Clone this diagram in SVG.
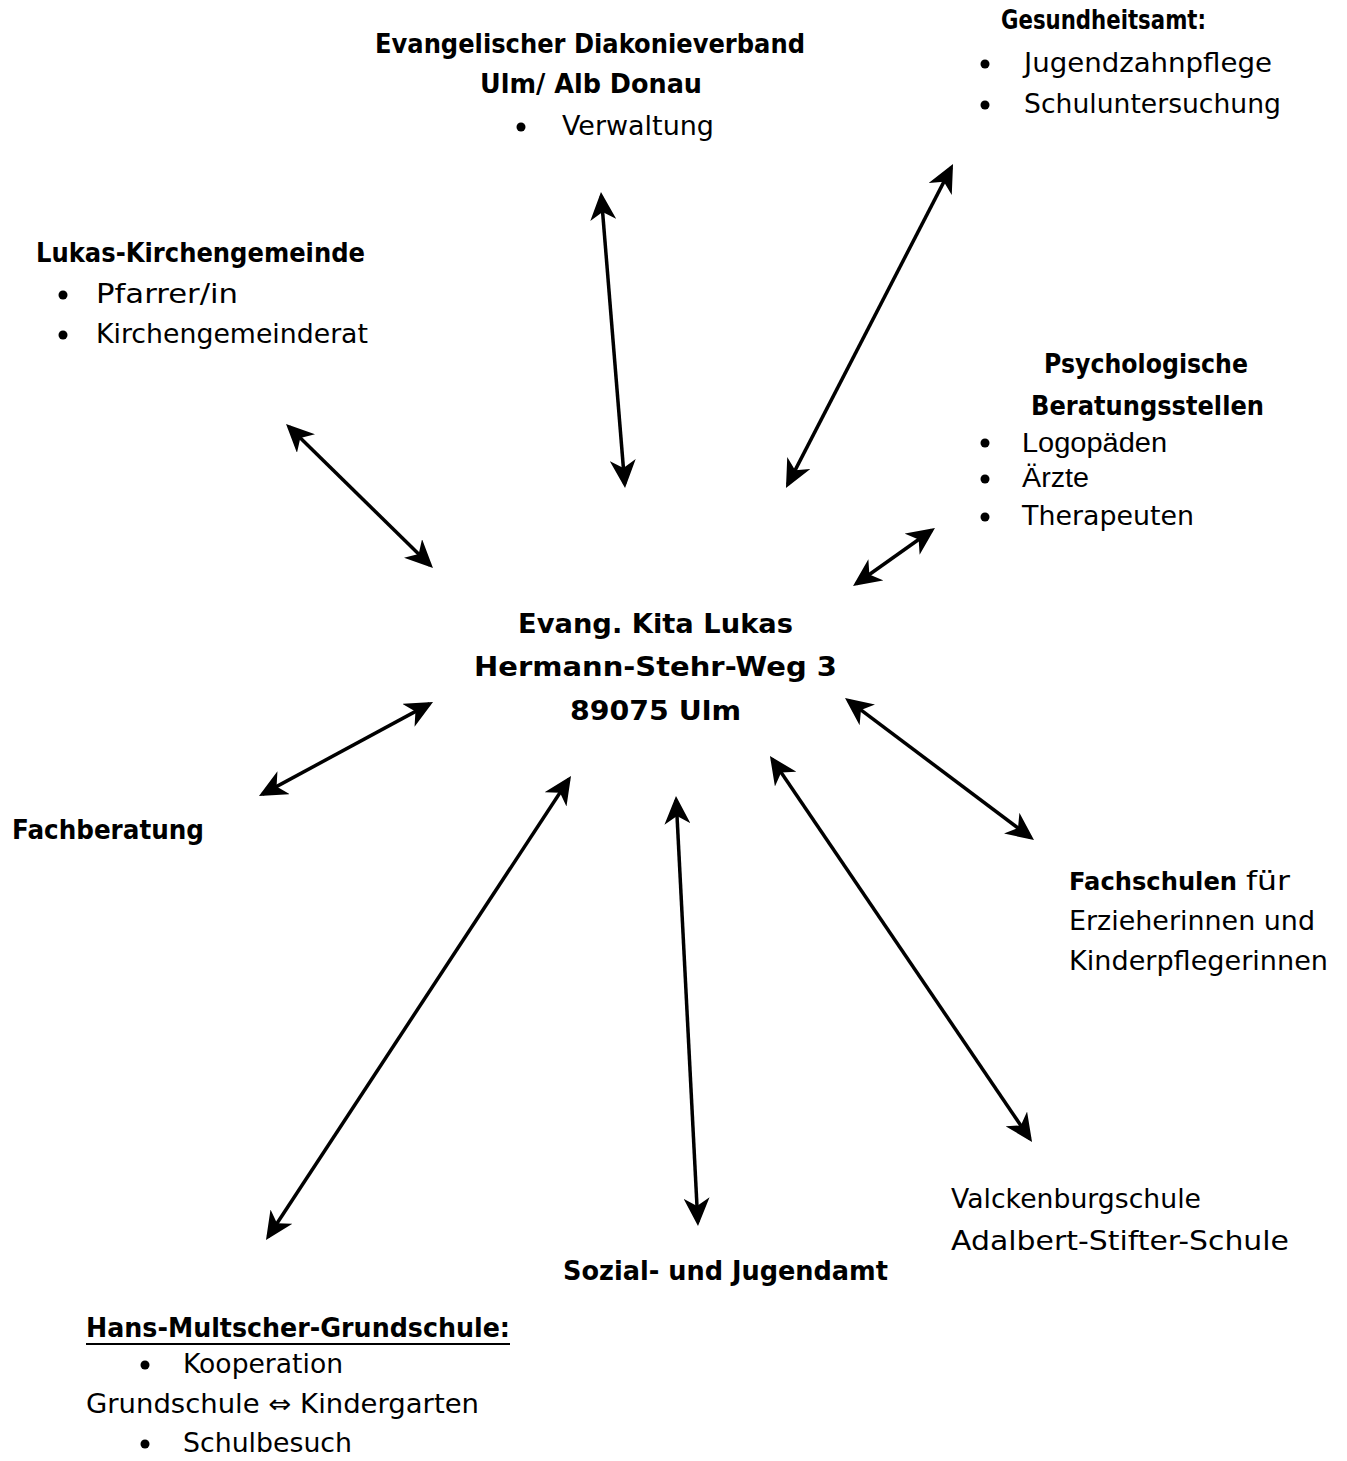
<svg xmlns="http://www.w3.org/2000/svg" width="1347" height="1461" viewBox="0 0 1347 1461">
<style>
text{font-family:"DejaVu Sans","Liberation Sans",sans-serif;font-size:26.5px;fill:#000}
.b{font-weight:bold}
.a{font-family:"Liberation Sans",Arial,sans-serif;font-size:27px}
.c{stroke:#000;stroke-width:3.5;fill:none}
</style>
<defs>
<marker id="ah" viewBox="0 0 28 26" refX="24" refY="13" markerWidth="28" markerHeight="26" markerUnits="userSpaceOnUse" orient="auto-start-reverse">
<path d="M28,13 L0,0 L8,13 L0,26 Z" fill="#000"/>
</marker>
</defs>
<rect width="1347" height="1461" fill="#fff"/>
<g id="connectors">
<line class="c" x1="601.3" y1="196" x2="624.7" y2="484" marker-start="url(#ah)" marker-end="url(#ah)"/>
<line class="c" x1="951.2" y1="167.6" x2="787.8" y2="484.4" marker-start="url(#ah)" marker-end="url(#ah)"/>
<line class="c" x1="288.9" y1="426.8" x2="430.1" y2="565.2" marker-start="url(#ah)" marker-end="url(#ah)"/>
<line class="c" x1="931.7" y1="530.3" x2="856.3" y2="583.7" marker-start="url(#ah)" marker-end="url(#ah)"/>
<line class="c" x1="429.5" y1="703.9" x2="262.5" y2="794.1" marker-start="url(#ah)" marker-end="url(#ah)"/>
<line class="c" x1="848.2" y1="700.4" x2="1030.8" y2="837.6" marker-start="url(#ah)" marker-end="url(#ah)"/>
<line class="c" x1="772.2" y1="759.3" x2="1029.8" y2="1138.7" marker-start="url(#ah)" marker-end="url(#ah)"/>
<line class="c" x1="676.2" y1="800" x2="697.8" y2="1222" marker-start="url(#ah)" marker-end="url(#ah)"/>
<line class="c" x1="568.8" y1="779.3" x2="268.2" y2="1236.7" marker-start="url(#ah)" marker-end="url(#ah)"/>
</g>
<g id="diakonie">
<text class="b" x="375" y="53" textLength="430" lengthAdjust="spacingAndGlyphs">Evangelischer Diakonieverband</text>
<text class="b" x="480" y="93" textLength="222" lengthAdjust="spacingAndGlyphs">Ulm/ Alb Donau</text>
<circle cx="521" cy="127" r="4.5"/>
<text x="562" y="135" textLength="152" lengthAdjust="spacingAndGlyphs">Verwaltung</text>
</g>
<g id="gesundheitsamt">
<text class="b" x="1001" y="29" textLength="205" lengthAdjust="spacingAndGlyphs">Gesundheitsamt:</text>
<circle cx="985" cy="64" r="4.5"/>
<text x="1024" y="72" textLength="248" lengthAdjust="spacingAndGlyphs">Jugendzahnpflege</text>
<circle cx="985" cy="105" r="4.5"/>
<text x="1024" y="113" textLength="257" lengthAdjust="spacingAndGlyphs">Schuluntersuchung</text>
</g>
<g id="lukas">
<text class="b" x="36" y="262" textLength="329" lengthAdjust="spacingAndGlyphs">Lukas-Kirchengemeinde</text>
<circle cx="63" cy="295" r="4.5"/>
<text x="96" y="303" textLength="142" lengthAdjust="spacingAndGlyphs">Pfarrer/in</text>
<circle cx="63" cy="335" r="4.5"/>
<text x="96" y="343" textLength="272" lengthAdjust="spacingAndGlyphs">Kirchengemeinderat</text>
</g>
<g id="psych">
<text class="b" x="1044" y="373" textLength="204" lengthAdjust="spacingAndGlyphs">Psychologische</text>
<text class="b" x="1031" y="415" textLength="233" lengthAdjust="spacingAndGlyphs">Beratungsstellen</text>
<circle cx="985" cy="443" r="4.5"/>
<text class="a" x="1022" y="452" textLength="145" lengthAdjust="spacingAndGlyphs">Logopäden</text>
<circle cx="985" cy="479" r="4.5"/>
<text class="a" x="1022" y="487" textLength="67" lengthAdjust="spacingAndGlyphs">Ärzte</text>
<circle cx="985" cy="517" r="4.5"/>
<text x="1022" y="525" textLength="172" lengthAdjust="spacingAndGlyphs">Therapeuten</text>
</g>
<g id="kita">
<text class="b" x="518" y="633" textLength="275" lengthAdjust="spacingAndGlyphs">Evang. Kita Lukas</text>
<text class="b" x="474" y="676" textLength="363" lengthAdjust="spacingAndGlyphs">Hermann-Stehr-Weg 3</text>
<text class="b" x="570" y="720" textLength="171" lengthAdjust="spacingAndGlyphs">89075 Ulm</text>
</g>
<g id="fachberatung">
<text class="b" x="12" y="839" textLength="192" lengthAdjust="spacingAndGlyphs">Fachberatung</text>
</g>
<g id="fachschulen">
<text class="b" x="1069" y="890" style="font-size:24px" textLength="168" lengthAdjust="spacingAndGlyphs">Fachschulen</text>
<text x="1246" y="890" textLength="44" lengthAdjust="spacingAndGlyphs">für</text>
<text x="1069" y="930" textLength="246" lengthAdjust="spacingAndGlyphs">Erzieherinnen und</text>
<text x="1069" y="970" textLength="259" lengthAdjust="spacingAndGlyphs">Kinderpflegerinnen</text>
</g>
<g id="schulen">
<text x="951" y="1208" textLength="250" lengthAdjust="spacingAndGlyphs">Valckenburgschule</text>
<text x="951" y="1250" textLength="338" lengthAdjust="spacingAndGlyphs">Adalbert-Stifter-Schule</text>
</g>
<g id="sozial">
<text class="b" x="563" y="1280" textLength="325" lengthAdjust="spacingAndGlyphs">Sozial- und Jugendamt</text>
</g>
<g id="hans">
<text class="b" x="86" y="1337" textLength="424" lengthAdjust="spacingAndGlyphs">Hans-Multscher-Grundschule:</text>
<line x1="86" y1="1344" x2="510" y2="1344" stroke="#000" stroke-width="2"/>
<circle cx="145" cy="1365" r="4.5"/>
<text x="183" y="1373" textLength="160" lengthAdjust="spacingAndGlyphs">Kooperation</text>
<text x="86" y="1413" textLength="393" lengthAdjust="spacingAndGlyphs">Grundschule ⇔ Kindergarten</text>
<circle cx="145" cy="1444" r="4.5"/>
<text x="183" y="1452" textLength="169" lengthAdjust="spacingAndGlyphs">Schulbesuch</text>
</g>
</svg>
